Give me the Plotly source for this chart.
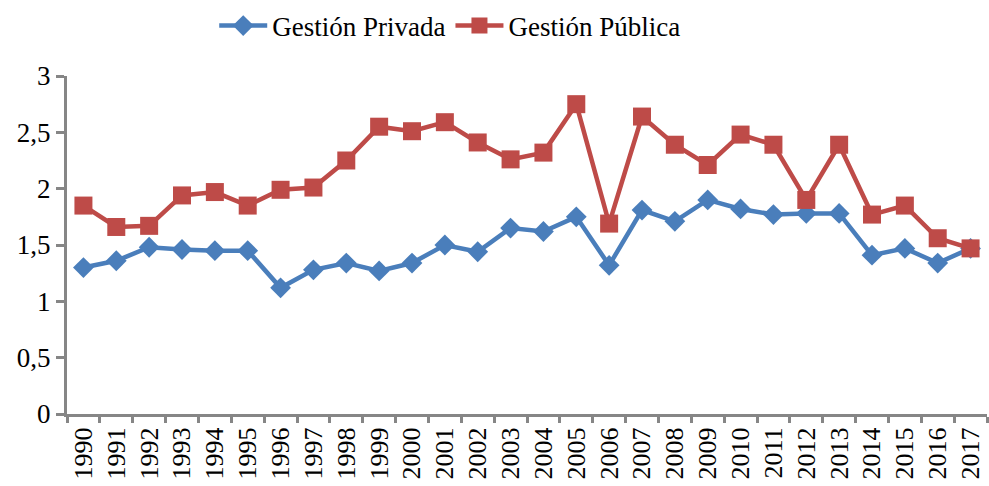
import plotly.graph_objects as go

years = [str(y) for y in range(1990, 2018)]

gestion_privada = [1.30, 1.36, 1.48, 1.46, 1.45, 1.45, 1.12, 1.28, 1.34, 1.27,
                   1.34, 1.50, 1.44, 1.65, 1.62, 1.75, 1.32, 1.81, 1.71, 1.90,
                   1.82, 1.77, 1.78, 1.78, 1.41, 1.47, 1.34, 1.47]

gestion_publica = [1.85, 1.66, 1.67, 1.94, 1.97, 1.85, 1.99, 2.01, 2.25, 2.55,
                   2.51, 2.59, 2.41, 2.26, 2.32, 2.75, 1.69, 2.64, 2.39, 2.21,
                   2.48, 2.39, 1.90, 2.39, 1.77, 1.85, 1.56, 1.47]

y_ticks = [0, 0.5, 1, 1.5, 2, 2.5, 3]

BLUE = "#4A7EBB"
RED = "#BE4B48"
AXIS = "#868686"
FONT = "Liberation Serif"

fig = go.Figure()
fig.add_trace(go.Scatter(
    x=years, y=gestion_privada, name="Gestión Privada", mode="lines+markers",
    line=dict(color=BLUE, width=4.5),
    marker=dict(symbol="diamond", size=16, color=BLUE),
))
fig.add_trace(go.Scatter(
    x=years, y=gestion_publica, name="Gestión Pública", mode="lines+markers",
    line=dict(color=RED, width=4.5),
    marker=dict(symbol="square", size=18, color=RED),
))

fig.update_layout(
    width=989, height=486,
    margin=dict(l=67, r=2, t=76, b=72, autoexpand=False),
    paper_bgcolor="white", plot_bgcolor="white",
    separators=",.",
    font=dict(family=FONT, size=24, color="black"),
    showlegend=True,
    legend=dict(orientation="h", x=0.416, xanchor="center", y=1.148, yanchor="middle",
                font=dict(family=FONT, size=27, color="black"), itemwidth=48,
                traceorder="normal"),
    xaxis=dict(
        type="category", showgrid=False, showline=True, linecolor=AXIS, linewidth=3,
        ticks="outside", tickson="boundaries", ticklen=6, tickwidth=3, tickcolor=AXIS,
        tickangle=-90, tickfont=dict(family=FONT, size=26, color="black"),
        range=[-0.5, 27.5],
    ),
    yaxis=dict(
        range=[0, 3], tickvals=y_ticks, showgrid=False, zeroline=False,
        showline=True, linecolor=AXIS, linewidth=3,
        ticks="outside", ticklen=8, tickwidth=3, tickcolor=AXIS,
        tickfont=dict(family=FONT, size=27, color="black"), ticklabelstandoff=0,
    ),
)

fig.write_html("out.html")
